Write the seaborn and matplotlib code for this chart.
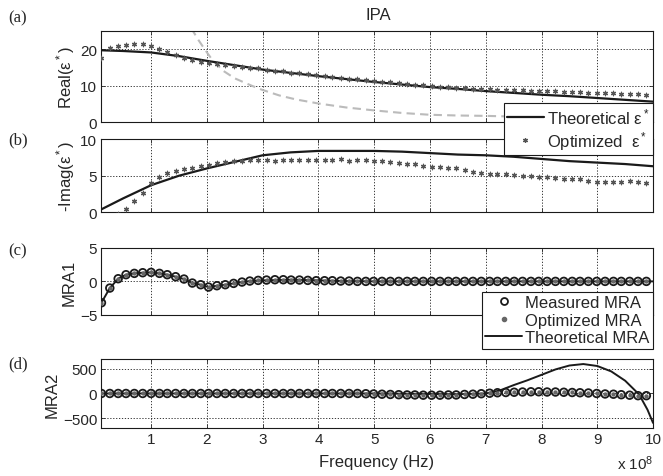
import matplotlib
matplotlib.use("Agg")
import matplotlib.pyplot as plt
from matplotlib.lines import Line2D
import seaborn as sns

# ---------------- data (frequency in units of 1e8 Hz) ----------------
freq = [0.11, 0.26, 0.41, 0.55, 0.70, 0.85, 1.00, 1.15, 1.29, 1.44,
        1.59, 1.74, 1.89, 2.03, 2.18, 2.33, 2.48, 2.63, 2.77, 2.92,
        3.07, 3.22, 3.37, 3.51, 3.66, 3.81, 3.96, 4.11, 4.25, 4.40,
        4.55, 4.70, 4.85, 4.99, 5.14, 5.29, 5.44, 5.59, 5.73, 5.88,
        6.03, 6.18, 6.33, 6.47, 6.62, 6.77, 6.92, 7.07, 7.21, 7.36,
        7.51, 7.66, 7.81, 7.95, 8.10, 8.25, 8.40, 8.55, 8.69, 8.84,
        8.99, 9.14, 9.29, 9.43, 9.58, 9.73, 9.88]

opt_real = [17.5, 20.3, 20.8, 21.1, 21.3, 21.3, 20.8, 20.0, 19.3, 18.5,
            17.6, 17.0, 16.6, 16.3, 16.0, 15.7, 15.4, 15.1, 14.9, 14.7,
            14.4, 14.1, 13.9, 13.6, 13.4, 13.1, 12.9, 12.6, 12.4, 12.2,
            11.9, 11.7, 11.5, 11.3, 11.1, 10.9, 10.7, 10.5, 10.3, 10.1,
            9.9, 9.7, 9.6, 9.4, 9.3, 9.2, 9.1, 9.0, 8.9, 8.8,
            8.7, 8.7, 8.6, 8.5, 8.4, 8.4, 8.3, 8.2, 8.3, 8.1,
            8.0, 7.9, 7.9, 7.8, 7.7, 7.6, 7.5]

opt_imag = [-2.0, -1.0, -0.3, 0.5, 1.6, 2.7, 4.0, 4.8, 5.4, 5.7,
            5.9, 6.1, 6.3, 6.5, 6.7, 6.9, 7.0, 7.0, 7.1, 7.1,
            7.1, 7.0, 7.1, 7.1, 7.2, 7.1, 7.1, 7.2, 7.2, 7.3,
            7.0, 7.2, 7.1, 7.0, 7.0, 6.9, 6.7, 6.6, 6.6, 6.3,
            6.2, 6.2, 6.0, 6.0, 5.8, 5.5, 5.4, 5.3, 5.2, 5.3,
            5.1, 5.0, 4.9, 4.8, 4.8, 4.7, 4.6, 4.5, 4.5, 4.3,
            4.2, 4.1, 4.2, 4.2, 4.3, 4.2, 4.0]

theo_f = [0.11, 0.5, 1.0, 1.5, 2.0, 2.5, 3.0, 3.5, 4.0, 4.5, 5.0,
          5.5, 6.0, 6.5, 7.0, 7.5, 8.0, 8.5, 9.0, 9.5, 10.0]
theo_real = [19.7, 19.5, 19.1, 18.1, 16.8, 15.6, 14.4, 13.5, 12.6, 11.8, 11.0,
             10.3, 9.6, 9.1, 8.5, 8.0, 7.5, 7.1, 6.6, 6.1, 5.6]
theo_imag = [0.4, 1.9, 3.7, 5.0, 6.0, 6.9, 7.8, 8.2, 8.4, 8.4, 8.4,
             8.3, 8.1, 7.9, 7.8, 7.6, 7.3, 7.0, 6.8, 6.6, 6.3]

gray_f = [1.60, 1.70, 1.75, 1.85, 1.96, 2.1, 2.3, 2.5, 2.8, 3.0, 3.3, 3.6, 4.0,
          4.5, 5.0, 5.5, 6.0, 6.5, 7.0, 7.5, 8.0, 8.5, 9.0, 9.5, 10.0]
gray_real = [29.0, 26.5, 25.0, 22.5, 20.0, 17.0, 14.0, 12.0, 10.0, 8.8, 7.3, 6.2, 5.1,
             4.0, 3.2, 2.5, 2.0, 1.8, 1.7, 1.5, 1.4, 1.35, 1.3, 1.3, 1.3]

meas_mra1 = [-3.2, -1.0, 0.4, 1.0, 1.2, 1.3, 1.35, 1.2, 1.0, 0.7,
             0.35, -0.25, -0.5, -0.85, -0.65, -0.5, -0.3, -0.1, 0.05, 0.15,
             0.2, 0.25, 0.25, 0.2, 0.2, 0.15, 0.1, 0.1, 0.1, 0.05,
             0.05, 0.0, 0.0, 0.0, 0.0, 0.0, 0.0, 0.0, 0.0, 0.0,
             0.0, 0.0, 0.0, 0.0, 0.0, 0.0, 0.0, 0.0, 0.0, 0.0,
             0.0, 0.0, 0.0, 0.0, 0.0, 0.0, 0.0, 0.0, 0.0, 0.0,
             0.0, 0.0, 0.0, 0.0, 0.0, 0.0, 0.0]
opt_mra1 = [-3.2, -1.0, 0.4, 1.0, 1.2, 1.3, 1.35, 1.2, 1.0, 0.7,
            0.35, -0.25, -0.5, -0.85, -0.65, -0.5, -0.3, -0.1, 0.05, 0.15,
            0.2, 0.25, 0.25, 0.2, 0.2, 0.15, 0.1, 0.1, 0.1, 0.05,
            0.05, 0.0, 0.0, 0.0, 0.0, 0.0, 0.0, 0.0, 0.0, 0.0,
            0.0, 0.0, 0.0, 0.0, 0.0, 0.0, 0.0, 0.0, 0.0, 0.0,
            0.0, 0.0, 0.0, 0.0, 0.0, 0.0, 0.0, 0.0, 0.0, 0.0,
            0.0, 0.0, 0.0, 0.0, 0.0, 0.0, 0.0]
theo_mra1_f = [0.11, 0.26, 0.41, 0.55, 0.70, 0.85, 1.00, 1.15, 1.29, 1.44,
               1.59, 1.74, 1.89, 2.03, 2.18, 2.33, 2.48, 2.63, 2.77, 3.0,
               3.5, 4.0, 4.5, 5.0, 6.0, 7.0, 8.0, 9.0, 10.0]
theo_mra1 = [-3.2, -1.0, 0.4, 1.0, 1.2, 1.3, 1.35, 1.2, 1.0, 0.7,
             0.35, -0.25, -0.5, -0.85, -0.65, -0.5, -0.3, -0.1, 0.05, 0.15,
             0.25, 0.15, 0.05, 0.0, 0.0, 0.0, 0.0, 0.0, 0.0]

meas_mra2 = [0, 0, 0, 0, 0, 0, 0, 0, 0, 0,
             0, 0, 0, 0, 0, 0, 0, 0, 0, 0,
             0, 0, 0, 0, 0, 0, 0, 0, 0, 0,
             0, 0, -5, -10, -15, -20, -25, -30, -30, -35,
             -35, -35, -30, -30, -20, -15, -5, 5, 15, 20,
             25, 30, 35, 35, 30, 30, 25, 20, 15, 10,
             0, -10, -15, -25, -35, -45, -45]
opt_mra2 = [0, 0, 0, 0, 0, 0, 0, 0, 0, 0,
            0, 0, 0, 0, 0, 0, 0, 0, 0, 0,
            0, 0, 0, 0, 0, 0, 0, 0, 0, 0,
            0, 0, -5, -10, -15, -20, -25, -30, -30, -35,
            -35, -35, -30, -30, -20, -15, -5, 5, 15, 20,
            25, 30, 35, 35, 30, 30, 25, 20, 15, 10,
            0, -10, -15, -25, -35, -45, -45]
theo_mra2_f = [0.11, 1.0, 2.0, 3.0, 4.0, 5.0, 6.0, 6.5, 7.0, 7.25, 7.5, 7.75,
               8.0, 8.25, 8.5, 8.75, 9.0, 9.25, 9.5, 9.75, 9.9, 10.0]
theo_mra2 = [0, 0, 0, 0, 0, 0, -10, -15, 0, 60, 170, 270,
             380, 490, 570, 600, 560, 450, 260, -20, -330, -600]

xtick_vals = [1, 2, 3, 4, 5, 6, 7, 8, 9, 10]

# ---------------- style ----------------
sns.set_theme(style="white")
plt.rcParams["font.family"] = ["Liberation Sans", "DejaVu Sans"]
plt.rcParams["mathtext.fontset"] = "custom"
plt.rcParams["mathtext.rm"] = "Liberation Sans"
plt.rcParams["mathtext.it"] = "Liberation Sans"

FT = 11      # tick labels
FL = 12      # labels / legend
fig = plt.figure(figsize=(6.63, 4.77), dpi=100)
L, W = 0.153, 0.832
ax_a = fig.add_axes([L, 0.742, W, 0.191])
ax_b = fig.add_axes([L, 0.553, W, 0.153])
ax_c = fig.add_axes([L, 0.338, W, 0.140])
ax_d = fig.add_axes([L, 0.101, W, 0.144])

STAR = (6, 2, 0)
SCOL = "#555555"

# (a)
sns.lineplot(x=gray_f, y=gray_real, ax=ax_a, color="#bbbbbb", lw=1.5,
             linestyle=(0, (4, 2.5)), estimator=None, sort=False)
sns.lineplot(x=theo_f, y=theo_real, ax=ax_a, color="k", lw=1.6,
             estimator=None, sort=False)
sns.scatterplot(x=freq, y=opt_real, ax=ax_a, marker=STAR, s=10, color=SCOL,
                linewidth=0.9, zorder=3)
# (b)
sns.lineplot(x=theo_f, y=theo_imag, ax=ax_b, color="k", lw=1.6,
             estimator=None, sort=False)
sns.scatterplot(x=freq, y=opt_imag, ax=ax_b, marker=STAR, s=10, color=SCOL,
                linewidth=0.9, zorder=3)
# (c)
sns.lineplot(x=theo_mra1_f, y=theo_mra1, ax=ax_c, color="k", lw=1.4,
             estimator=None, sort=False)
sns.scatterplot(x=freq, y=meas_mra1, ax=ax_c, marker="o", s=30,
                facecolor="none", edgecolor="k", linewidth=1.3, zorder=3)
sns.scatterplot(x=freq, y=opt_mra1, ax=ax_c, marker="o", s=10,
                color="#666666", linewidth=0, zorder=4)
# (d)
sns.lineplot(x=theo_mra2_f, y=theo_mra2, ax=ax_d, color="k", lw=1.4,
             estimator=None, sort=False)
sns.scatterplot(x=freq, y=meas_mra2, ax=ax_d, marker="o", s=30,
                facecolor="none", edgecolor="k", linewidth=1.3, zorder=3)
sns.scatterplot(x=freq, y=opt_mra2, ax=ax_d, marker="o", s=10,
                color="#666666", linewidth=0, zorder=4)

ylims = [(0, 25), (0, 10), (-5, 5), (-700, 700)]
yticks = [[0, 10, 20], [0, 5, 10], [-5, 0, 5], [-500, 0, 500]]
ylabels = ["Real(ε$^*$)", "-Imag(ε$^*$)", "MRA1", "MRA2"]
for ax, yl, yt, lab in zip([ax_a, ax_b, ax_c, ax_d], ylims, yticks, ylabels):
    ax.set_xlim(0.11, 10)
    ax.set_ylim(*yl)
    ax.set_xticks(xtick_vals)
    ax.set_yticks(yt)
    ax.grid(True, color="k", linestyle=(0, (1.5, 2)), linewidth=0.6)
    for sp in ax.spines.values():
        sp.set_visible(True)
        sp.set_color("k")
        sp.set_linewidth(0.8)
    ax.tick_params(direction="in", length=3, width=0.6, labelsize=FT,
                   top=True, right=True, left=True, bottom=True, pad=3)
    ax.set_ylabel(lab, fontsize=FL, labelpad=2)
    if ax is not ax_d:
        ax.tick_params(labelbottom=False)
    if ax.get_legend() is not None:
        ax.get_legend().remove()
ax_d.set_xticklabels([str(v) for v in xtick_vals])

# legends
h_a = [Line2D([], [], color="k", lw=1.6),
       Line2D([], [], color=SCOL, marker=STAR, ms=3.5, mew=0.9, linestyle="none")]
leg_a = fig.legend(h_a, ["Theoretical ε$^*$", "Optimized  ε$^*$"],
                   loc="upper right", bbox_to_anchor=(0.985, 0.782),
                   fontsize=FL, frameon=True, fancybox=False, framealpha=1,
                   edgecolor="k", borderpad=0.2, handlelength=2.2,
                   handletextpad=0.2, labelspacing=0.15, borderaxespad=0)
leg_a.get_frame().set_linewidth(0.8)

h_c = [Line2D([], [], color="k", marker="o", ms=5, mfc="none", mew=1.3, linestyle="none"),
       Line2D([], [], color="#666666", marker="o", ms=3, linestyle="none"),
       Line2D([], [], color="k", lw=1.4)]
leg_c = fig.legend(h_c, ["Measured MRA", "Optimized MRA", "Theoretical MRA"],
                   loc="upper right", bbox_to_anchor=(0.985, 0.386),
                   fontsize=FL, frameon=True, fancybox=False, framealpha=1,
                   edgecolor="k", borderpad=0.2, handlelength=2.2,
                   handletextpad=0.2, labelspacing=0.15, borderaxespad=0)
leg_c.get_frame().set_linewidth(0.8)

# texts
fig.text(0.570, 0.968, "IPA", ha="center", va="center", fontsize=FL)
fig.text(0.568, 0.030, "Frequency (Hz)", ha="center", va="center", fontsize=FL)
fig.text(0.958, 0.008, "x 10$^8$", ha="center", va="bottom", fontsize=FT)
for lab, y in zip(["(a)", "(b)", "(c)", "(d)"], [0.962, 0.706, 0.474, 0.237]):
    fig.text(0.027, y, lab, ha="center", va="center", fontsize=FL,
             family=["Liberation Serif", "DejaVu Serif"])

fig.savefig("out.png", dpi=100)
